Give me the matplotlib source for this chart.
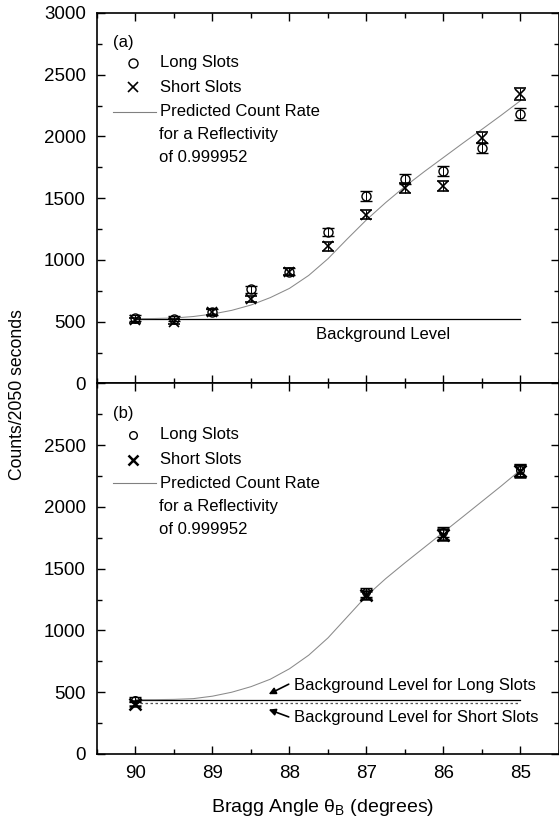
import matplotlib
matplotlib.use("Agg")
import matplotlib.pyplot as plt
from matplotlib.ticker import MultipleLocator, FixedLocator
from matplotlib.lines import Line2D

plt.rcParams['font.family'] = ['Liberation Sans', 'DejaVu Sans']
plt.rcParams['mathtext.fontset'] = 'custom'
plt.rcParams['mathtext.rm'] = 'Liberation Sans'

# ---------------- data ----------------
angles_a = [90, 89.5, 89, 88.5, 88, 87.5, 87, 86.5, 86, 85.5, 85]
long_a = [530, 525, 582, 762, 906, 1225, 1516, 1654, 1720, 1906, 2180]
long_a_err = [23, 23, 24, 28, 30, 35, 39, 41, 41, 44, 47]
short_a = [510, 500, 582, 685, 906, 1109, 1366, 1580, 1600, 1990, 2342]
short_a_err = [23, 22, 24, 26, 30, 33, 37, 40, 40, 45, 48]

curve_x = [90, 89.75, 89.5, 89.25, 89, 88.75, 88.5, 88.25, 88, 87.75, 87.5,
           87.25, 87, 86.75, 86.5, 86.25, 86, 85.75, 85.5, 85.25, 85]
curve_a = [525, 526, 530, 542, 562, 592, 635, 695, 770, 875, 1010,
           1170, 1325, 1465, 1595, 1715, 1830, 1945, 2058, 2172, 2290]
bg_a = 525

angles_b = [90, 87, 86, 85]
long_b = [440, 1309, 1799, 2301]
long_b_err = [21, 36, 42, 48]
short_b = [408, 1287, 1777, 2288]
short_b_err = [20, 36, 42, 48]
curve_b = [440, 440, 442, 448, 468, 500, 545, 605, 690, 800, 940,
           1110, 1280, 1420, 1548, 1672, 1796, 1920, 2045, 2170, 2300]
bg_b_long = 440
bg_b_short = 413

bg_range = [90, 85]
xticks = [90, 89, 88, 87, 86, 85]

# ---------------- figure ----------------
fig = plt.figure(figsize=(5.59, 8.25), dpi=100)
L, W = 0.1735, 0.8265
H = 0.4491
B = 0.0861
ax1 = fig.add_axes([L, B + H, W, H])
ax2 = fig.add_axes([L, B, W, H])

for ax in (ax1, ax2):
    ax.set_xlim(90.5, 84.5)
    ax.set_ylim(0, 3000)
    ax.xaxis.set_major_locator(FixedLocator(xticks))
    ax.xaxis.set_minor_locator(MultipleLocator(0.5))
    ax.yaxis.set_major_locator(MultipleLocator(500))
    ax.yaxis.set_minor_locator(MultipleLocator(250))
    ax.tick_params(which='both', direction='in', top=True, right=True,
                   width=1.0, labelsize=13.5)
    ax.tick_params(which='major', length=6)
    ax.tick_params(which='minor', length=3.5)
    ax.tick_params(axis='y', pad=8)
    ax.tick_params(axis='x', pad=8)
    for s in ax.spines.values():
        s.set_linewidth(1.2)

ax1.tick_params(labelbottom=False)
ax2.set_yticks([0, 500, 1000, 1500, 2000, 2500, 3000])
ax2.set_yticklabels(['0', '500', '1000', '1500', '2000', '2500', ''])

eb_kw = dict(linestyle='none', color='black', ecolor='black', elinewidth=0.7,
             capsize=4.5, capthick=0.9)

# ----- panel (a) -----
ax1.plot(bg_range, [bg_a, bg_a], color='black', lw=0.9)
ax1.plot(curve_x, curve_a, color='#8a8a8a', lw=0.75)
ax1.errorbar(angles_a, long_a, yerr=long_a_err, marker='o', ms=6.5,
             mfc='none', mec='black', mew=1.0, **eb_kw)
ax1.errorbar(angles_a, short_a, yerr=short_a_err, marker='x', ms=6.5,
             mew=1.2, **eb_kw)
ax1.text(87.66, 400, 'Background Level', fontsize=12, va='center', ha='left')

# ----- panel (b) -----
ax2.plot(bg_range, [bg_b_long, bg_b_long], color='black', lw=0.9)
ax2.plot(bg_range, [bg_b_short, bg_b_short], color='#555555', lw=0.9,
         linestyle=(0, (2, 2)))
ax2.plot(curve_x, curve_b, color='#8a8a8a', lw=0.75)
ax2.errorbar(angles_b, long_b, yerr=long_b_err, marker='o', ms=5.5,
             mfc='none', mec='black', mew=1.0, **eb_kw)
ax2.errorbar(angles_b, short_b, yerr=short_b_err, marker='x', ms=8,
             mew=1.8, **eb_kw)

arrow_kw = dict(arrowstyle='-|>', color='black', lw=1.2,
                shrinkA=0, shrinkB=0, mutation_scale=10)
ax2.text(87.94, 554, 'Background Level for Long Slots', fontsize=12,
         va='center', ha='left')
ax2.annotate('', xy=(88.27, 484), xytext=(88.01, 565), arrowprops=arrow_kw)
ax2.text(87.94, 293, 'Background Level for Short Slots', fontsize=12,
         va='center', ha='left')
ax2.annotate('', xy=(88.27, 360), xytext=(88.01, 300), arrowprops=arrow_kw)

# ----- manual legends -----
def legend(ax, tag, ys, o_ms, x_ms, x_mew):
    tr = ax.transAxes
    ax.text(0.035, ys[0], tag, transform=tr, fontsize=12, va='center', ha='left')
    ax.add_line(Line2D([0.078], [ys[1]], transform=tr, marker='o', ms=o_ms,
                       mfc='none', mec='black', mew=1.0, ls='none'))
    ax.text(0.136, ys[1], 'Long Slots', transform=tr, fontsize=12, va='center')
    ax.add_line(Line2D([0.078], [ys[2]], transform=tr, marker='x', ms=x_ms,
                       mec='black', mew=x_mew, ls='none'))
    ax.text(0.136, ys[2], 'Short Slots', transform=tr, fontsize=12, va='center')
    ax.add_line(Line2D([0.035, 0.128], [ys[3], ys[3]], transform=tr,
                       color='#808080', lw=0.8))
    ax.text(0.136, ys[3], 'Predicted Count Rate', transform=tr, fontsize=12,
            va='center')
    ax.text(0.134, ys[4], 'for a Reflectivity', transform=tr, fontsize=12,
            va='center')
    ax.text(0.134, ys[5], 'of 0.999952', transform=tr, fontsize=12,
            va='center')

legend(ax1, '(a)', [0.919, 0.865, 0.800, 0.733, 0.671, 0.609], 6.5, 6.5, 1.2)
legend(ax2, '(b)', [0.920, 0.861, 0.794, 0.731, 0.667, 0.605], 5.5, 7.5, 1.8)

fig.text(18 / 559, 1 - 395 / 825, 'Counts/2050 seconds', rotation=90,
         fontsize=12.7, ha='center', va='center')
fig.text(323 / 559, 1 - 807 / 825, 'Bragg Angle θ$_{\\mathrm{B}}$ (degrees)',
         fontsize=14, ha='center', va='center')

fig.savefig('out.png', dpi=100)
